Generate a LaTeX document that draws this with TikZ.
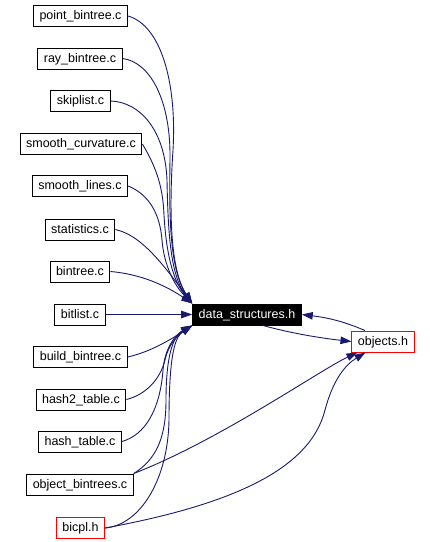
\documentclass[tikz,border=0pt]{standalone}
\usepackage{fontspec}
\setmainfont{Liberation Sans}
\usepackage{xcolor}
\usepackage{tikz}
\usetikzlibrary{arrows.meta}
\definecolor{dxnavy}{HTML}{191970}
\definecolor{dxred}{HTML}{FF0000}
\tikzset{
  box/.style={draw=black,fill=white,line width=1pt,inner xsep=6pt,inner ysep=0pt,minimum height=21pt,text height=9.5pt,text depth=2.5pt,font=\fontsize{12.5}{14}\selectfont},
  hdr/.style={box,draw=dxred},
  cur/.style={box,fill=black,text=white},
  ar/.style={-{Triangle[length=11pt,width=7.5pt]},draw=dxnavy,line width=0.9pt},
}
\begin{document}
\begin{tikzpicture}[x=1pt,y=-1pt]
  \useasboundingbox[fill=white] (0,0) rectangle (430,542);
  \node[box] (pbt) at (80.5,16) {point\_bintree.c};
  \node[box] (rbt) at (80,58.5) {ray\_bintree.c};
  \node[box] (skip) at (80.5,101) {skiplist.c};
  \node[box] (scurv) at (81,144) {smooth\_curvature.c};
  \node[box] (slines) at (80,186) {smooth\_lines.c};
  \node[box] (stats) at (80,229.5) {statistics.c};
  \node[box] (bt) at (80,271.5) {bintree.c};
  \node[box] (bl) at (80,314.5) {bitlist.c};
  \node[box] (bbt) at (80.5,357) {build\_bintree.c};
  \node[box] (h2t) at (81,399.5) {hash2\_table.c};
  \node[box] (ht) at (80,441.5) {hash\_table.c};
  \node[box] (obt) at (80,484.5) {object\_bintrees.c};
  \node[hdr] (bicpl) at (80.5,528) {bicpl.h};
  \node[cur] (ds) at (247,314.5) {data\_structures.h};
  \node[hdr] (obj) at (383,341.5) {objects.h};
  \draw[ar] (pbt.east) .. controls (160,25) and (177,80) .. (173,150) .. controls (169,210) and (170,270) .. (ds.north west);
  \draw[ar] (rbt.east) .. controls (150,62) and (171,100) .. (170,160) .. controls (169,220) and (170,270) .. (ds.north west);
  \draw[ar] (skip.east) .. controls (140,102) and (165,130) .. (167,180) .. controls (168,230) and (170,275) .. (ds.north west);
  \draw[ar] (scurv.east) .. controls (158,170) and (163,190) .. (164,215) .. controls (166,250) and (172,280) .. (ds.north west);
  \draw[ar] (slines.east) .. controls (150,195) and (160,215) .. (162,240) .. controls (164,265) and (174,285) .. (ds.north west);
  \draw[ar] (stats.east) .. controls (140,235) and (160,260) .. (ds.north west);
  \draw[ar] (bt.east) .. controls (140,274) and (165,285) .. (ds.north west);
  \draw[ar] (bl) -- (ds);
  \draw[ar] (bbt.east) .. controls (150,352) and (170,340) .. (ds.south west);
  \draw[ar] (h2t.east) .. controls (145,395) and (160,380) .. (165,360) .. controls (168,345) and (178,335) .. (ds.south west);
  \draw[ar] (ht.east) .. controls (145,435) and (160,410) .. (163,370) .. controls (165,345) and (178,333) .. (ds.south west);
  \draw[ar] (obt.north east) .. controls (155,460) and (166,440) .. (166,400) .. controls (166,350) and (175,335) .. (ds.south west);
  \draw[ar] (bicpl.east) .. controls (140,525) and (168,480) .. (169,420) .. controls (169,350) and (176,336) .. (ds.south west);
  \draw[ar] (obt.north east) .. controls (220,440) and (320,370) .. ([xshift=6pt]obj.south west);
  \draw[ar] (bicpl.east) .. controls (230,505) and (310,470) .. (325,410) .. controls (333,380) and (345,365) .. ([xshift=14pt]obj.south west);
  \draw[ar] ([xshift=16pt]ds.south) .. controls (290,333) and (320,338) .. (obj.west);
  \draw[ar] ([xshift=-18pt]obj.north) .. controls (345,322) and (330,318) .. (ds.east);
\end{tikzpicture}
\end{document}
